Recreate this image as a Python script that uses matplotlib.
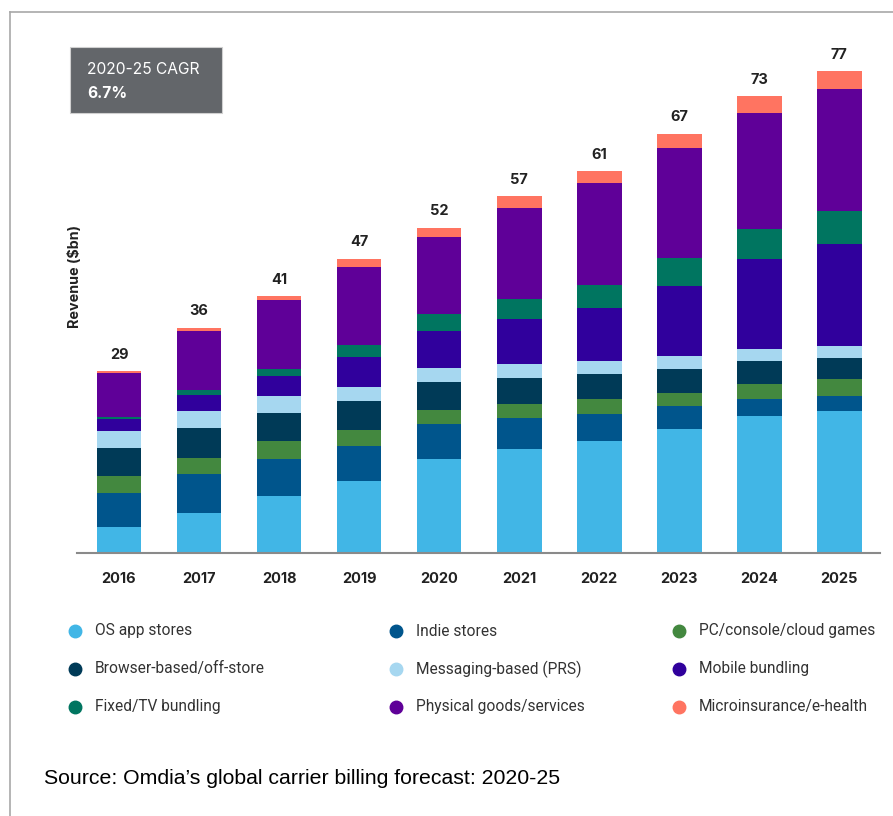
import numpy as np
import matplotlib
matplotlib.use("Agg")
import matplotlib.pyplot as plt
from matplotlib.lines import Line2D
from matplotlib.patches import Rectangle

years = ["2016", "2017", "2018", "2019", "2020", "2021", "2022", "2023", "2024", "2025"]
totals = [29, 36, 41, 47, 52, 57, 61, 67, 73, 77]

# revenue by billing channel, $bn
os_app_stores = [4.1, 6.4, 9.0, 11.5, 14.9, 16.6, 17.9, 19.8, 21.8, 22.7]
indie_stores = [5.5, 6.2, 6.0, 5.6, 5.6, 5.0, 4.3, 3.6, 2.7, 2.4]
pc_console_games = [2.7, 2.6, 2.8, 2.5, 2.3, 2.1, 2.3, 2.2, 2.4, 2.6]
browser_off_store = [4.5, 4.8, 4.6, 4.6, 4.5, 4.3, 4.0, 3.8, 3.7, 3.5]
messaging_prs = [2.6, 2.6, 2.6, 2.3, 2.2, 2.2, 2.2, 2.1, 2.0, 1.9]
mobile_bundling = [1.9, 2.6, 3.2, 4.8, 6.0, 7.2, 8.5, 11.2, 14.4, 16.3]
fixed_tv_bundling = [0.4, 0.8, 1.2, 1.9, 2.7, 3.2, 3.6, 4.4, 4.8, 5.3]
physical_goods = [7.0, 9.5, 11.0, 12.5, 12.3, 14.6, 16.3, 17.6, 18.5, 19.4]
microinsurance = [0.3, 0.5, 0.6, 1.3, 1.5, 1.8, 1.9, 2.3, 2.7, 2.9]

series = [
    ("OS app stores", os_app_stores, "#41b6e6"),
    ("Indie stores", indie_stores, "#00558c"),
    ("PC/console/cloud games", pc_console_games, "#43883f"),
    ("Browser-based/off-store", browser_off_store, "#003a57"),
    ("Messaging-based (PRS)", messaging_prs, "#a6d7f0"),
    ("Mobile bundling", mobile_bundling, "#30009c"),
    ("Fixed/TV bundling", fixed_tv_bundling, "#007560"),
    ("Physical goods/services", physical_goods, "#5f0098"),
    ("Microinsurance/e-health", microinsurance, "#ff7461"),
]

fig = plt.figure(figsize=(8.93, 8.16), dpi=100)
W, H = 893, 816

def fx(px):
    return px / W

def fy(py):
    return 1 - py / H

ax = fig.add_axes([fx(77), fy(552.5), fx(880) - fx(77), fy(60) - fy(552.5)])

x = np.arange(len(years))
bottom = np.zeros(len(years))
for name, vals, color in series:
    ax.bar(x, vals, width=0.56, bottom=bottom, color=color, edgecolor="none", zorder=2)
    bottom += np.array(vals)

for xi, t in zip(x, totals):
    ax.text(xi, t + 1.5, str(t), ha="center", va="bottom", fontsize=10.5,
            fontweight="bold", family="Inter", color="#222222")

ax.set_xlim(-0.525, len(years) - 0.49)
ax.set_ylim(0, 78.8)
for side in ["top", "right", "left"]:
    ax.spines[side].set_visible(False)
ax.spines["bottom"].set_color("#8a8a8a")
ax.spines["bottom"].set_linewidth(1.5)
ax.set_yticks([])
ax.set_xticks(x)
ax.set_xticklabels(years, fontsize=10.5, fontweight="bold", family="Inter", color="#222222")
ax.tick_params(axis="x", length=0, pad=14)

fig.text(fx(75), fy(276), "Revenue ($bn)", rotation=90, ha="center", va="center",
         fontsize=10.3, fontweight="bold", family="Inter", color="#222222")

# CAGR call-out box
fig.add_artist(Rectangle((fx(70), fy(113)), fx(222) - fx(70), fy(47) - fy(113),
                         transform=fig.transFigure, facecolor="#63666a", edgecolor="#d0d0d0",
                         linewidth=0.8))
fig.text(fx(87), fy(70), "2020-25 CAGR", color="white", fontsize=11.2, family="Inter",
         va="center", ha="left")
fig.text(fx(87), fy(93), "6.7%", color="white", fontsize=11.2, fontweight="bold",
         family="Inter", va="center", ha="left")

# legend laid out row by row, three columns
col_x = [75, 396, 679]
row_y = [631, 669, 707]
for i, (name, vals, color) in enumerate(series):
    cx = col_x[i % 3]
    cy = row_y[i // 3]
    fig.add_artist(Line2D([fx(cx)], [fy(cy)], marker="o", markersize=9, color=color,
                          linestyle="none", transform=fig.transFigure))
    fig.text(fx(cx + 20), fy(cy), name, fontsize=11.2, family="Roboto", color="#333333",
             va="center", ha="left")

fig.text(fx(44), fy(778), "Source: Omdia\u2019s global carrier billing forecast: 2020-25",
         fontsize=15.3, family="Liberation Sans", color="black", va="center", ha="left")

# frame lines along the top and left edges
fig.add_artist(Line2D([fx(9.5), 1.0], [fy(12), fy(12)], color="#a8a8a8", linewidth=1.2,
                      transform=fig.transFigure))
fig.add_artist(Line2D([fx(9.5), fx(9.5)], [0.0, fy(12)], color="#a8a8a8", linewidth=1.2,
                      transform=fig.transFigure))

fig.savefig("out.png", dpi=100, facecolor="white")
